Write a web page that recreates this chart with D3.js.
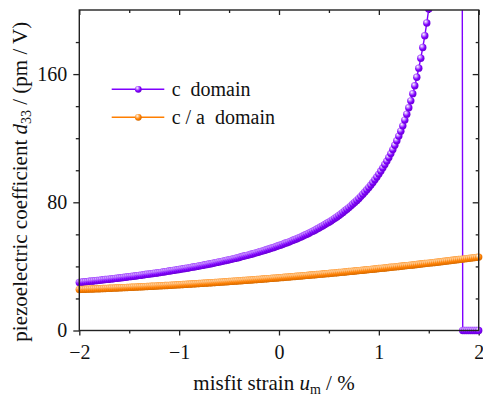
<!DOCTYPE html>
<html>
<head>
<meta charset="utf-8">
<script src="https://cdn.jsdelivr.net/npm/d3@7"></script>
<style>
  body { margin: 0; background: #fff; }
  svg text { font-family: "Liberation Serif", "Times New Roman", serif; fill: #111; }
</style>
</head>
<body>
<svg id="chart" width="483" height="396"></svg>
<script>
// Misfit strain grid (%): -2 to 2 in steps of 0.02
const strainStart = -2;
const strainStep = 0.02;

// d33 (pm/V) of the c domain; drops to zero past the stability limit
const cDomain = [
  30.0, 30.1, 30.3, 30.4, 30.5, 30.7, 30.8, 30.9, 31.1, 31.2,
  31.3, 31.5, 31.6, 31.8, 31.9, 32.0, 32.2, 32.3, 32.5, 32.6,
  32.8, 32.9, 33.1, 33.2, 33.4, 33.6, 33.7, 33.9, 34.0, 34.2,
  34.4, 34.5, 34.7, 34.9, 35.1, 35.2, 35.4, 35.6, 35.8, 35.9,
  36.1, 36.3, 36.5, 36.7, 36.9, 37.1, 37.3, 37.5, 37.7, 37.9,
  38.1, 38.3, 38.5, 38.7, 38.9, 39.1, 39.4, 39.6, 39.8, 40.0,
  40.3, 40.5, 40.7, 41.0, 41.2, 41.5, 41.7, 42.0, 42.2, 42.5,
  42.8, 43.0, 43.3, 43.6, 43.9, 44.1, 44.4, 44.7, 45.0, 45.3,
  45.6, 46.0, 46.3, 46.6, 46.9, 47.2, 47.6, 47.9, 48.3, 48.6,
  49.0, 49.4, 49.7, 50.1, 50.5, 50.9, 51.3, 51.7, 52.1, 52.6,
  53.0, 53.4, 53.9, 54.4, 54.8, 55.3, 55.8, 56.3, 56.8, 57.3,
  57.9, 58.4, 59.0, 59.6, 60.1, 60.7, 61.4, 62.0, 62.6, 63.3,
  64.0, 64.7, 65.4, 66.1, 66.9, 67.6, 68.4, 69.2, 70.1, 70.9,
  71.8, 72.7, 73.7, 74.7, 75.7, 76.7, 77.8, 78.9, 80.0, 81.2,
  82.4, 83.7, 85.0, 86.4, 87.8, 89.3, 90.8, 92.4, 94.1, 95.8,
  97.6, 99.5, 101.5, 103.6, 105.7, 108.0, 110.4, 112.9, 115.6, 118.4,
  121.3, 124.4, 127.7, 131.3, 135.0, 139.0, 143.3, 147.8, 152.7, 158.0,
  163.7, 169.9, 176.6, 183.9, 191.9, 200.7, 210.4, 221.2, 233.2, 246.8,
  262.2, 279.7, 300.0, 323.6, 351.6, 385.1, 426.0, 477.2, 542.9, 630.6,
  753.4, 937.5,
  0, 0, 0, 0, 0, 0, 0, 0, 0
];

// d33 (pm/V) of the c/a polydomain state
const caDomain = [
  25.60, 25.65, 25.69, 25.74, 25.79, 25.83, 25.88, 25.93, 25.98, 26.03,
  26.08, 26.13, 26.18, 26.23, 26.29, 26.34, 26.39, 26.45, 26.50, 26.56,
  26.61, 26.67, 26.73, 26.78, 26.84, 26.90, 26.96, 27.02, 27.08, 27.14,
  27.20, 27.26, 27.33, 27.39, 27.45, 27.52, 27.58, 27.65, 27.71, 27.78,
  27.85, 27.92, 27.98, 28.05, 28.12, 28.19, 28.26, 28.33, 28.41, 28.48,
  28.55, 28.62, 28.70, 28.77, 28.85, 28.92, 29.00, 29.08, 29.15, 29.23,
  29.31, 29.39, 29.47, 29.55, 29.63, 29.71, 29.79, 29.87, 29.96, 30.04,
  30.12, 30.21, 30.29, 30.38, 30.46, 30.55, 30.64, 30.73, 30.81, 30.90,
  30.99, 31.08, 31.17, 31.26, 31.36, 31.45, 31.54, 31.63, 31.73, 31.82,
  31.92, 32.01, 32.11, 32.21, 32.30, 32.40, 32.50, 32.60, 32.70, 32.80,
  32.90, 33.00, 33.10, 33.21, 33.31, 33.41, 33.52, 33.62, 33.73, 33.83,
  33.94, 34.05, 34.15, 34.26, 34.37, 34.48, 34.59, 34.70, 34.81, 34.92,
  35.03, 35.15, 35.26, 35.37, 35.49, 35.60, 35.72, 35.83, 35.95, 36.07,
  36.18, 36.30, 36.42, 36.54, 36.66, 36.78, 36.90, 37.02, 37.14, 37.27,
  37.39, 37.51, 37.64, 37.76, 37.89, 38.01, 38.14, 38.27, 38.39, 38.52,
  38.65, 38.78, 38.91, 39.04, 39.17, 39.30, 39.43, 39.57, 39.70, 39.83,
  39.97, 40.10, 40.24, 40.37, 40.51, 40.65, 40.79, 40.92, 41.06, 41.20,
  41.34, 41.48, 41.62, 41.77, 41.91, 42.05, 42.19, 42.34, 42.48, 42.63,
  42.77, 42.92, 43.07, 43.21, 43.36, 43.51, 43.66, 43.81, 43.96, 44.11,
  44.26, 44.41, 44.56, 44.72, 44.87, 45.02, 45.18, 45.33, 45.49, 45.64,
  45.80
];

const seriesNames = ["c  domain", "c / a  domain"];
const seriesColors = ["#7f00ff", "#ff7f00"];
const seriesHighlights = ["#d2a6ff", "#ffcf99"];

const xTicks = [-2, -1, 0, 1, 2];
const xMinorTicks = [-1.5, -0.5, 0.5, 1.5];
const yTicks = [0, 80, 160];
const yMinorTicks = [20, 40, 60, 100, 120, 140, 180];

const svg = d3.select("#chart");
const W = 483, H = 396;
const margin = { left: 79.3, right: 4.3, top: 10, bottom: 65.5 };
const pw = W - margin.left - margin.right;
const ph = H - margin.top - margin.bottom;

const x = d3.scaleLinear().domain([-2, 2]).range([margin.left, margin.left + pw]);
const y = d3.scaleLinear().domain([0, 200]).range([margin.top + ph, margin.top]);

const series = [cDomain, caDomain].map((vals, i) => ({
  name: seriesNames[i],
  color: seriesColors[i],
  light: seriesHighlights[i],
  points: vals.map((v, k) => ({ u: strainStart + k * strainStep, v }))
}));

// shaded-sphere marker fills
const defs = svg.append("defs");
series.forEach((s, i) => {
  const g = defs.append("radialGradient").attr("id", "ball" + i)
    .attr("cx", "40%").attr("cy", "35%").attr("r", "65%").attr("fx", "35%").attr("fy", "30%");
  g.append("stop").attr("offset", "0%").attr("stop-color", "#ffffff");
  g.append("stop").attr("offset", "22%").attr("stop-color", s.light);
  g.append("stop").attr("offset", "65%").attr("stop-color", s.color);
  g.append("stop").attr("offset", "100%").attr("stop-color", d3.color(s.color).darker(0.5));
});
defs.append("clipPath").attr("id", "plotClip")
  .append("rect").attr("x", 0).attr("y", margin.top).attr("width", W).attr("height", H - margin.top);

// axes: outward labelled ticks on bottom/left, inward ticks on top/right
const fmt = d3.format("");
function styleAxis(g) {
  g.select(".domain").remove();
  g.selectAll("line").attr("stroke", "#222").attr("stroke-width", 1.3);
  g.selectAll("text").style("font-size", "20px").attr("fill", "#111");
}
svg.append("g").attr("transform", `translate(0,${margin.top + ph})`)
  .call(d3.axisBottom(x).tickValues(xTicks).tickSize(5).tickPadding(9).tickFormat(fmt)).call(styleAxis);
svg.append("g").attr("transform", `translate(0,${margin.top + ph})`)
  .call(d3.axisBottom(x).tickValues(xMinorTicks).tickSize(3).tickFormat("")).call(styleAxis);
svg.append("g").attr("transform", `translate(${margin.left},0)`)
  .call(d3.axisLeft(y).tickValues(yTicks).tickSize(6).tickPadding(6).tickFormat(fmt)).call(styleAxis);
svg.append("g").attr("transform", `translate(${margin.left},0)`)
  .call(d3.axisLeft(y).tickValues(yMinorTicks).tickSize(3.5).tickFormat("")).call(styleAxis);
svg.append("g").attr("transform", `translate(0,${margin.top})`)
  .call(d3.axisTop(x).tickValues(xTicks).tickSize(-5).tickFormat("")).call(styleAxis);
svg.append("g").attr("transform", `translate(0,${margin.top})`)
  .call(d3.axisTop(x).tickValues(xMinorTicks).tickSize(-3).tickFormat("")).call(styleAxis);
svg.append("g").attr("transform", `translate(${margin.left + pw},0)`)
  .call(d3.axisRight(y).tickValues(yTicks).tickSize(-6).tickFormat("")).call(styleAxis);
svg.append("g").attr("transform", `translate(${margin.left + pw},0)`)
  .call(d3.axisRight(y).tickValues(yMinorTicks).tickSize(-3).tickFormat("")).call(styleAxis);

// data: connecting line plus shaded markers
const line = d3.line().x(d => x(d.u)).y(d => y(d.v));
const plot = svg.append("g").attr("clip-path", "url(#plotClip)");
series.forEach((s, i) => {
  const g = plot.append("g");
  g.append("path").datum(s.points).attr("d", line)
    .attr("fill", "none").attr("stroke", s.color).attr("stroke-width", 1.4);
  g.selectAll("circle").data(s.points).join("circle")
    .attr("cx", d => x(d.u)).attr("cy", d => y(d.v)).attr("r", 3.7)
    .attr("fill", `url(#ball${i})`);
});

// frame
svg.append("rect").attr("x", margin.left).attr("y", margin.top)
  .attr("width", pw).attr("height", ph)
  .attr("fill", "none").attr("stroke", "#222").attr("stroke-width", 1.4);

// legend
const legend = svg.append("g");
series.forEach((s, i) => {
  const ly = 89.3 + i * 28;
  legend.append("line").attr("x1", 111.7).attr("x2", 164.3).attr("y1", ly).attr("y2", ly)
    .attr("stroke", s.color).attr("stroke-width", 1.4);
  legend.append("circle").attr("cx", 138.3).attr("cy", ly).attr("r", 3.4)
    .attr("fill", `url(#ball${i})`);
  legend.append("text").attr("x", 171.7).attr("y", ly + 6.5)
    .style("font-size", "20px").style("white-space", "pre").text(s.name);
});

// axis titles
const xt = svg.append("text").attr("x", 274).attr("y", 390)
  .attr("text-anchor", "middle").style("font-size", "21px").style("white-space", "pre");
xt.append("tspan").text("misfit strain ");
xt.append("tspan").style("font-style", "italic").text("u");
xt.append("tspan").attr("dy", 4).style("font-size", "14px").text("m");
xt.append("tspan").attr("dy", -4).text(" / %");

const yt = svg.append("text").attr("transform", "translate(27,181.7) rotate(-90)")
  .attr("text-anchor", "middle").style("font-size", "21px").style("white-space", "pre");
yt.append("tspan").text("piezoelectric coefficient ");
yt.append("tspan").style("font-style", "italic").text("d");
yt.append("tspan").attr("dy", 4).style("font-size", "14px").text("33");
yt.append("tspan").attr("dy", -4).text(" / (pm / V)");
</script>
</body>
</html>
